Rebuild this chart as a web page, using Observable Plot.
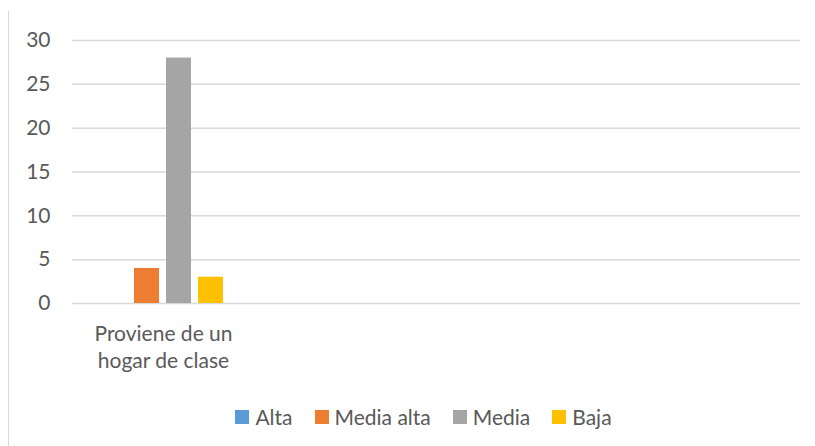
<!DOCTYPE html>
<html>
<head>
<meta charset="utf-8">
<script src="https://cdn.jsdelivr.net/npm/d3@7"></script>
<script src="https://cdn.jsdelivr.net/npm/@observablehq/plot@0.6"></script>
<style>
  html, body { margin: 0; padding: 0; background: #fff; }
  body { width: 815px; height: 446px; overflow: hidden; position: relative; font-family: Lato, "Open Sans", sans-serif; }
  #frame { position: absolute; left: 8px; top: 11px; width: 807px; height: 435px; border-left: 1px solid #d9d9d9; }
  #chart { position: absolute; left: 0; top: 0; }
  #legend { position: absolute; left: 0; width: 847px; top: 405px; display: flex; justify-content: center; gap: 22px; font-size: 21px; color: #595959; line-height: 24px; }
  #legend .item { display: flex; align-items: center; gap: 6px; }
  #legend .sw { width: 14px; height: 14px; display: inline-block; }
</style>
</head>
<body>
<div id="frame"></div>
<div id="chart"></div>
<div id="legend"></div>
<script>
const categories = ["Proviene de un hogar de clase", "cat2", "cat3", "cat4"];
const categoryLabels = ["Proviene de un\nhogar de clase", "", "", ""];
const series = ["Alta", "Media alta", "Media", "Baja"];
const colors = ["#5B9BD5", "#ED7D31", "#A5A5A5", "#FFC000"];
const values = [0, 4, 28, 3]; // for "Proviene de un hogar de clase"; other categories have no values
const yTicks = [0, 5, 10, 15, 20, 25, 30];

const data = series.map((s, i) => ({category: categories[0], series: s, value: values[i]}));
// empty placeholder rows so the (blank) category slots are kept
categories.slice(1).forEach(c => data.push({category: c, series: series[0], value: null}));

const plot = Plot.plot({
  width: 815,
  height: 400,
  marginTop: 40,
  marginBottom: 97,
  marginLeft: 72,
  marginRight: 15,
  style: {fontFamily: "Lato, 'Open Sans', sans-serif", fontSize: "21px", color: "#595959", background: "transparent"},
  fx: {domain: categories, padding: 0, label: null},
  x: {domain: series, paddingInner: 0.212, paddingOuter: 0.864, axis: null},
  y: {domain: [0, 30], ticks: yTicks, label: null},
  color: {domain: series, range: colors},
  marks: [
    Plot.ruleY(yTicks, {y: d => d, stroke: "#d9d9d9", strokeWidth: 1.5}),
    Plot.barY(data, {fx: "category", x: "series", y: "value", fill: "series"}),
    Plot.axisY({ticks: yTicks, tickSize: 0, tickPadding: 22, fontSize: 21, fill: "#595959", label: null}),
    Plot.axisFx({anchor: "bottom", tickSize: 0, tickPadding: 18, fontSize: 21, fill: "#595959", lineHeight: 1.3, label: null,
      tickFormat: d => categoryLabels[categories.indexOf(d)]})
  ]
});
document.getElementById("chart").appendChild(plot);

const legend = document.getElementById("legend");
series.forEach((s, i) => {
  const item = document.createElement("div");
  item.className = "item";
  const sw = document.createElement("span");
  sw.className = "sw";
  sw.style.background = colors[i];
  const t = document.createElement("span");
  t.textContent = s;
  item.appendChild(sw);
  item.appendChild(t);
  legend.appendChild(item);
});
</script>
</body>
</html>
